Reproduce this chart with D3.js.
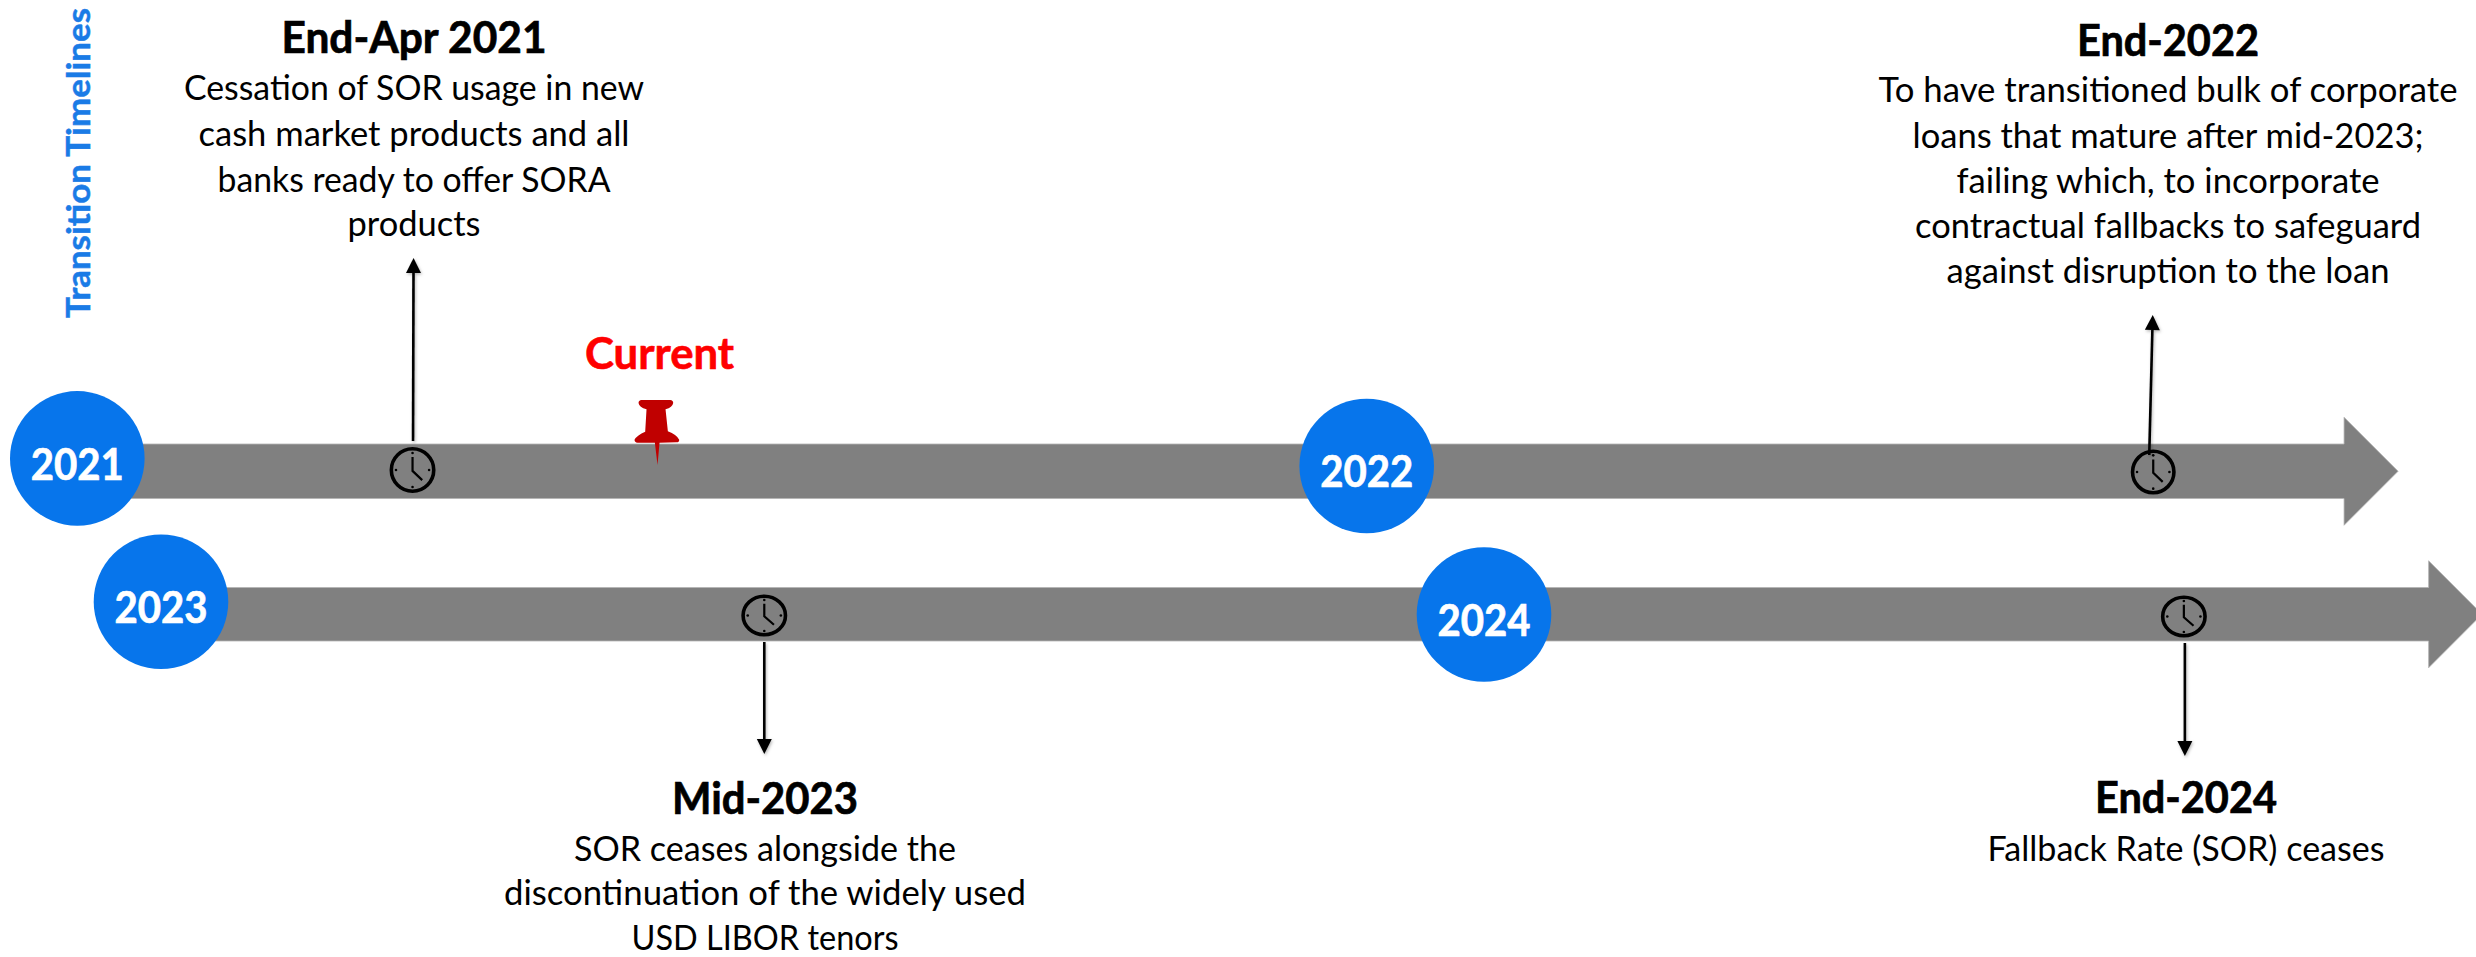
<!DOCTYPE html>
<html>
<head>
<meta charset="utf-8">
<title>Transition Timelines</title>
<script src="https://cdn.jsdelivr.net/npm/d3@7"></script>
<style>
  html, body { margin: 0; padding: 0; background: #fff; overflow: hidden; }
  svg { display: block; }
  text { font-family: Lato, "Noto Sans", sans-serif; }
</style>
</head>
<body>
<svg id="chart" width="2476" height="957"></svg>
<script>
// Timeline content
const rowYears = [[2021, 2022], [2023, 2024]];
const rowEnds = [2022.758, 2024.714];
const currentPosition = 2021.45;
const currentLabel = "Current";
const sideTitle = "Transition Timelines";

const milestoneRows = [0, 0, 1, 1];
const milestoneYears = [2021.26, 2022.61, 2023.456, 2024.529];
const milestoneTitles = ["End-Apr 2021", "End-2022", "Mid-2023", "End-2024"];
const milestoneNotes = [
  ["Cessation of SOR usage in new", "cash market products and all", "banks ready to offer SORA", "products"],
  ["To have transitioned bulk of corporate", "loans that mature after mid-2023;", "failing which, to incorporate", "contractual fallbacks to safeguard", "against disruption to the loan"],
  ["SOR ceases alongside the", "discontinuation of the widely used", "USD LIBOR tenors"],
  ["Fallback Rate (SOR) ceases"]
];

// Layout of the two rows and the annotations
const W = 2476, H = 957;
const colors = { bar: "#808080", edge: "#b4b4b4", blue: "#0775eb", red: "#ff0000", pin: "#c00000" };
const rowLayout = [
  { range: [77.3, 1366.7], top: 444, bottom: 498.5, headHalf: 54, circleY: [458.4, 466], labelY: [480, 487] },
  { range: [161, 1484], top: 587.5, bottom: 641, headHalf: 53.5, circleY: [601.7, 614.5], labelY: [623, 636] }
];
const circleR = 67.3;
const clockLayout = [
  { cy: 470, rx: 23, ry: 23, arrow: [0.5, 441, 1, 258] },
  { cy: 472, rx: 22.5, ry: 22.5, arrow: [-4, 455, -0.5, 315] },
  { cy: 615.5, rx: 23, ry: 21, arrow: [0, 642, 0, 754] },
  { cy: 616.5, rx: 23, ry: 21, arrow: [1, 643, 1, 756] }
];
const textLayout = [
  { cx: 414, titleY: 53, titleW: 265, lineY: [100, 146, 192, 236], lineW: [460, 431, 393, 133] },
  { cx: 2168, titleY: 56, titleW: 182, lineY: [102, 148, 193, 238, 283], lineW: [579, 511, 423, 506, 443] },
  { cx: 765, titleY: 814, titleW: 186, lineY: [861, 905, 950], lineW: [382, 522, 267] },
  { cx: 2186, titleY: 813, titleW: 182, lineY: [861], lineW: [397] }
];

const svg = d3.select("#chart");
const defs = svg.append("defs");
const soft = defs.append("filter").attr("id", "soft")
  .attr("x", "-50%").attr("y", "-10%").attr("width", "200%").attr("height", "120%");
soft.append("feDropShadow").attr("dx", 1).attr("dy", 1.5).attr("stdDeviation", 1.5)
  .attr("flood-color", "#000").attr("flood-opacity", 0.28);

// One linear year scale per row
const rowScales = rowYears.map((d, i) => d3.scaleLinear().domain(d).range(rowLayout[i].range));

// Gray arrows running from each row's first year to the row end
const arrowLine = d3.line();
svg.append("g").selectAll("path").data(rowLayout).join("path")
  .attr("d", (r, i) => {
    const x0 = rowScales[i](rowYears[i][0]);
    const x1 = rowScales[i](rowEnds[i]);
    const mid = (r.top + r.bottom) / 2;
    return arrowLine([
      [x0, r.top], [x1, r.top], [x1, mid - r.headHalf],
      [x1 + r.headHalf, mid], [x1, mid + r.headHalf], [x1, r.bottom], [x0, r.bottom]
    ]) + "Z";
  })
  .attr("fill", colors.bar)
  .attr("stroke", colors.edge)
  .attr("stroke-width", 0.8);

// Year discs with their labels
const discs = rowYears.flatMap((years, i) => years.map((year, j) => ({ year, i, j })));
const disc = svg.append("g").selectAll("g").data(discs).join("g");
disc.append("circle")
  .attr("cx", d => rowScales[d.i](d.year))
  .attr("cy", d => rowLayout[d.i].circleY[d.j])
  .attr("r", circleR)
  .attr("fill", colors.blue);
disc.append("text")
  .attr("x", d => rowScales[d.i](d.year))
  .attr("y", d => rowLayout[d.i].labelY[d.j])
  .attr("text-anchor", "middle")
  .attr("font-size", 44)
  .attr("font-weight", 700)
  .attr("fill", "#fff")
  .attr("stroke", "#fff")
  .attr("stroke-width", 0.7)
  .attr("textLength", 93)
  .attr("lengthAdjust", "spacingAndGlyphs")
  .text(d => d.year);

// Milestones: leader arrow, clock and text block
const milestones = milestoneYears.map((year, i) => ({
  year, i,
  x: rowScales[milestoneRows[i]](year),
  clock: clockLayout[i],
  text: textLayout[i],
  title: milestoneTitles[i],
  notes: milestoneNotes[i]
}));

const leader = svg.append("g").selectAll("g").data(milestones).join("g")
  .attr("filter", "url(#soft)");
const headLength = 15, headHalf = 7.5;
const tipOf = d => {
  const [dx0, y0, dx1, y1] = d.clock.arrow;
  const a = [d.x + dx0, y0], b = [d.x + dx1, y1];
  const len = Math.hypot(b[0] - a[0], b[1] - a[1]);
  const ux = (b[0] - a[0]) / len, uy = (b[1] - a[1]) / len;
  return { a, b, ux, uy };
};
leader.append("line")
  .attr("x1", d => tipOf(d).a[0])
  .attr("y1", d => tipOf(d).a[1])
  .attr("x2", d => tipOf(d).b[0] - tipOf(d).ux * headLength)
  .attr("y2", d => tipOf(d).b[1] - tipOf(d).uy * headLength)
  .attr("stroke", "#000")
  .attr("stroke-width", 2.6);
leader.append("path")
  .attr("d", d => {
    const { b, ux, uy } = tipOf(d);
    const bx = b[0] - ux * headLength, by = b[1] - uy * headLength;
    return arrowLine([b, [bx - uy * headHalf, by + ux * headHalf], [bx + uy * headHalf, by - ux * headHalf]]) + "Z";
  })
  .attr("fill", "#000");

const clock = svg.append("g").selectAll("g").data(milestones).join("g")
  .attr("transform", d => `translate(${d.x},${d.clock.cy})`);
clock.append("ellipse")
  .attr("rx", d => d.clock.rx - 1.8)
  .attr("ry", d => d.clock.ry - 1.8)
  .attr("fill", "none")
  .attr("stroke", "#000")
  .attr("stroke-width", 3.6);
clock.append("path")
  .attr("d", d => arrowLine([
    [0, -d.clock.ry * 0.56], [0, 0.04 * d.clock.ry], [d.clock.rx * 0.42, d.clock.ry * 0.44]
  ]))
  .attr("fill", "none")
  .attr("stroke", "#000")
  .attr("stroke-width", 2.2);
clock.selectAll("circle")
  .data(d => [[0, -1], [1, 0], [0, 1], [-1, 0]].map(p => [p[0] * d.clock.rx * 0.72, p[1] * d.clock.ry * 0.74]))
  .join("circle")
  .attr("cx", p => p[0])
  .attr("cy", p => p[1])
  .attr("r", 1.3)
  .attr("fill", "#000");

const block = svg.append("g").selectAll("g").data(milestones).join("g");
block.append("text")
  .attr("x", d => d.text.cx)
  .attr("y", d => d.text.titleY)
  .attr("text-anchor", "middle")
  .attr("font-size", 43)
  .attr("font-weight", 700)
  .attr("fill", "#000")
  .attr("stroke", "#000")
  .attr("stroke-width", 0.7)
  .attr("textLength", d => d.text.titleW)
  .attr("lengthAdjust", "spacingAndGlyphs")
  .text(d => d.title);
block.selectAll("text.note")
  .data(d => d.notes.map((line, k) => ({ line, y: d.text.lineY[k], w: d.text.lineW[k], cx: d.text.cx })))
  .join("text")
  .attr("class", "note")
  .attr("x", n => n.cx)
  .attr("y", n => n.y)
  .attr("text-anchor", "middle")
  .attr("font-size", 34)
  .attr("fill", "#000")
  .attr("textLength", n => n.w)
  .attr("lengthAdjust", "spacingAndGlyphs")
  .text(n => n.line);

// Push pin marking the current position
const pinX = rowScales[0](currentPosition);
const pinOutline = "M148 69Q148 61 157 60L243 60Q252 61 252 69Q250 82 229 88L236 154Q262 164 270 179Q270 187 262 187L211 188L205 255L197 188L145 188Q136 187 136 179Q144 165 168 155L172 88Q150 82 148 69Z";
svg.append("path")
  .attr("d", pinOutline)
  .attr("transform", `translate(${pinX},465) scale(${1 / 3}) translate(-205,-255)`)
  .attr("fill", colors.pin);
svg.append("text")
  .attr("x", 659.5)
  .attr("y", 369)
  .attr("text-anchor", "middle")
  .attr("font-size", 43)
  .attr("font-weight", 700)
  .attr("fill", colors.red)
  .attr("stroke", colors.red)
  .attr("stroke-width", 0.6)
  .attr("textLength", 149)
  .attr("lengthAdjust", "spacingAndGlyphs")
  .text(currentLabel);

// Rotated heading along the left edge
svg.append("text")
  .attr("transform", "translate(89.5,163) rotate(-90)")
  .attr("text-anchor", "middle")
  .attr("font-size", 33)
  .attr("font-weight", 700)
  .attr("fill", "#1a7be6")
  .attr("stroke", "#1a7be6")
  .attr("stroke-width", 0.5)
  .attr("textLength", 310)
  .attr("lengthAdjust", "spacingAndGlyphs")
  .text(sideTitle);
</script>
</body>
</html>
